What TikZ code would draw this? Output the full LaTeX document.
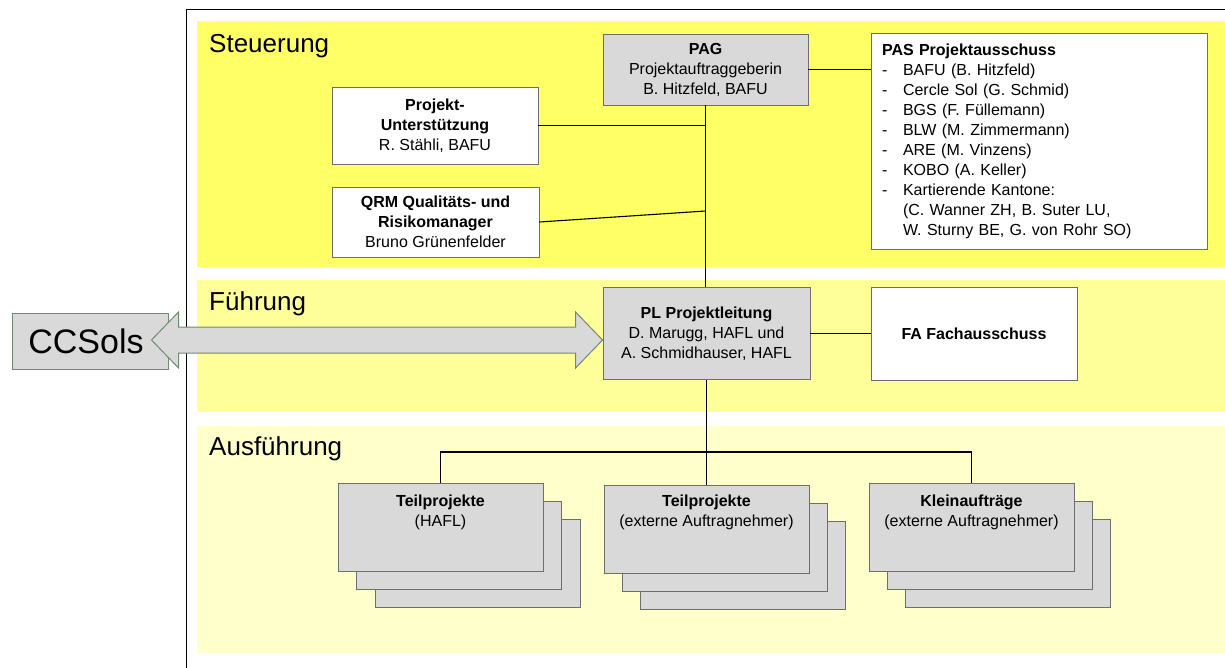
\documentclass[tikz,border=0pt]{standalone}
\usepackage{fontspec}
\setmainfont{Liberation Sans}
\usetikzlibrary{calc}
\definecolor{bandA}{HTML}{FFFF66}
\definecolor{bandB}{HTML}{FFFF99}
\definecolor{bandC}{HTML}{FFFFCC}
\definecolor{boxgray}{HTML}{D9D9D9}
\definecolor{boxline}{HTML}{6E6E6E}
\definecolor{ccline}{HTML}{6F8A6F}
\newcommand{\pasdash}{\makebox[21pt][l]{-}}
\newcommand{\pasind}{\hspace*{21pt}}
\begin{document}
\begin{tikzpicture}[x=1pt,y=-1pt,
  bandlabel/.style={inner sep=0pt, anchor=base west, font=\fontsize{26}{30}\selectfont},
  orgbox/.style={draw=boxline, line width=0.9pt, inner sep=0pt, align=center,
    font=\fontsize{16}{20}\selectfont},
  grayfill/.style={fill=boxgray},
  whitefill/.style={fill=white},
  stackbox/.style={draw=boxline, line width=0.9pt, fill=boxgray, inner sep=0pt,
    minimum width=205pt, minimum height=88pt},
  stacktext/.style={inner sep=0pt, align=center, anchor=north, font=\fontsize{16}{20}\selectfont},
  conn/.style={draw=black, line width=1.1pt},
  ccbox/.style={draw=ccline, line width=1pt, fill=boxgray, inner sep=0pt,
    font=\fontsize{34}{40}\selectfont},
  ccarrow/.style={draw=ccline, line width=1pt, fill=boxgray, line join=miter}
]
\useasboundingbox (0,0) rectangle (1225,667);
\begin{scope}
\clip (0,0) rectangle (1225,667);
% bands
\fill[bandA] (197,21) rectangle (1240,267);
\fill[bandB] (197,280) rectangle (1240,412);
\fill[bandC] (197,426) rectangle (1240,653);
% frame
\draw[line width=1pt] (186,9.5) rectangle (1240,690);
\end{scope}

% band labels
\node[bandlabel] (lblS) at (209,52) {Steuerung};
\node[bandlabel] (lblF) at (209,310) {Führung};
\node[bandlabel] (lblA) at (209,455) {Ausführung};

% Steuerung boxes
\node[orgbox, grayfill, minimum width=205pt, minimum height=71pt] (PAG) at (705.5,69.5)
  {\textbf{PAG}\\Projektauftraggeberin\\B. Hitzfeld, BAFU};
\node[orgbox, whitefill, minimum width=206pt, minimum height=77pt] (PU) at (435,125.5)
  {\textbf{Projekt-}\\\textbf{Unterstützung}\\R. Stähli, BAFU};
\node[orgbox, whitefill, minimum width=207pt, minimum height=70pt] (QRM) at (435.5,222)
  {\textbf{QRM Qualitäts- und}\\\textbf{Risikomanager}\\Bruno Grünenfelder};
\node[orgbox, whitefill, align=left, inner xsep=11pt, text width=314pt, minimum height=216pt] (PAS) at (1039,141)
  {\textbf{PAS Projektausschuss}\\
   \pasdash BAFU (B. Hitzfeld)\\
   \pasdash Cercle Sol (G. Schmid)\\
   \pasdash BGS (F. Füllemann)\\
   \pasdash BLW (M. Zimmermann)\\
   \pasdash ARE (M. Vinzens)\\
   \pasdash KOBO (A. Keller)\\
   \pasdash Kartierende Kantone:\\
   \pasind (C. Wanner ZH, B. Suter LU,\\
   \pasind W. Sturny BE, G. von Rohr SO)};

% Fuehrung boxes
\node[orgbox, grayfill, minimum width=207pt, minimum height=92pt] (PL) at (706.5,333.5)
  {\textbf{PL Projektleitung}\\D. Marugg, HAFL und\\A. Schmidhauser, HAFL};
\node[orgbox, whitefill, minimum width=206pt, minimum height=93pt] (FA) at (974,333.5)
  {\textbf{FA Fachausschuss}};

% Ausfuehrung stacks
\node[stackbox] (tpA3) at (477.5,563) {};
\node[stackbox] (tpA2) at (459,545.5) {};
\node[stackbox] (tpA) at (440.5,527) {};
\node[stacktext] (tpAt) at ([yshift=-12pt]tpA.north) {\textbf{Teilprojekte}\\(HAFL)};

\node[stackbox] (tpB3) at (743,565) {};
\node[stackbox] (tpB2) at (725,547) {};
\node[stackbox] (tpB) at (706.5,529) {};
\node[stacktext] (tpBt) at ([yshift=-10pt]tpB.north) {\textbf{Teilprojekte}\\(externe Auftragnehmer)};

\node[stackbox] (tpC3) at (1008,563) {};
\node[stackbox] (tpC2) at (989.5,545.5) {};
\node[stackbox] (tpC) at (971.5,527) {};
\node[stacktext] (tpCt) at ([yshift=-12pt]tpC.north) {\textbf{Kleinaufträge}\\(externe Auftragnehmer)};

% connectors
\draw[conn] (PAG.south) -- (PAG.south |- PL.north);
\draw[conn] (PAG.east) -- (PAG.east -| PAS.west);
\draw[conn] (PU.east) -- (PU.east -| PAG.south);
\coordinate (qj) at (705.5,211);
\draw[conn] (QRM.east) -- (qj);
\draw[conn] (PL.east) -- (FA.west);
\coordinate (busB) at (706.5,452);
\draw[conn] (PL.south) -- (tpB.north);
\draw[conn] (tpA.north) |- (busB) -| (tpC.north);

% CCSols and double arrow
\node[ccbox, minimum width=156pt, minimum height=56pt] (CCS) at (90,341) {CCSols\hspace*{8pt}};
\path (CCS.east) ++(-17,-1) coordinate (arL);
\coordinate (arR) at (PL.west |- arL);
\draw[ccarrow] (arL) -- ++(27,-28) -- ++(0,15) -- ($(arR)+(-27,-13)$) -- ++(0,-15)
  -- (arR) -- ++(-27,28) -- ++(0,-15) -- ($(arL)+(27,13)$) -- ++(0,15) -- cycle;
\end{tikzpicture}
\end{document}
